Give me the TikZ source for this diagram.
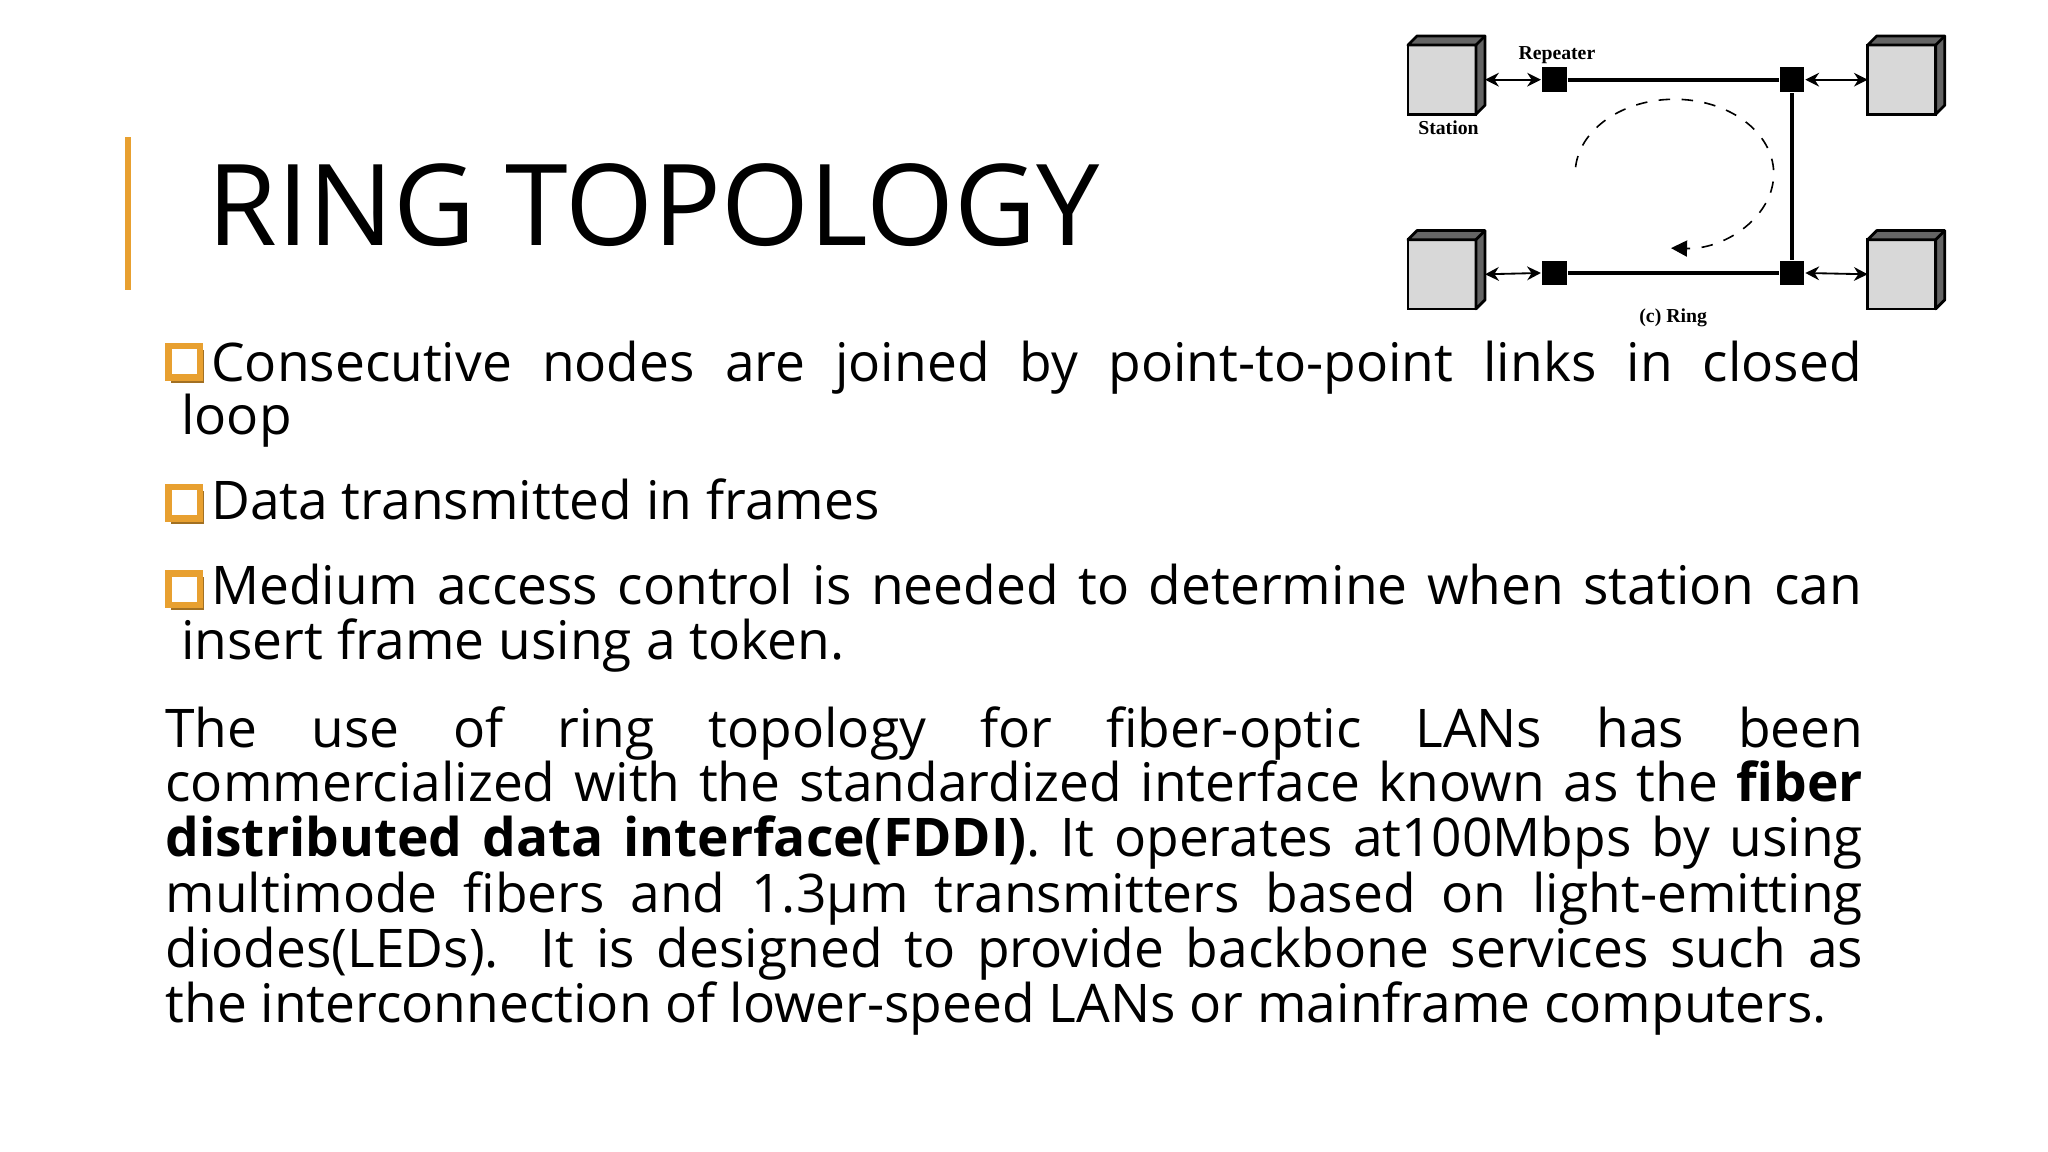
\documentclass[tikz,border=0pt]{standalone}
\usepackage{fontspec}
\setmainfont{Open Sans}
\newfontfamily\diagfont{Liberation Serif}
\usetikzlibrary{arrows.meta}
\definecolor{orng}{RGB}{232,160,48}
\definecolor{stfront}{RGB}{216,216,216}
\definecolor{stdark}{RGB}{100,100,100}
\tikzset{
  station/.style={draw=black,line width=0.6pt,fill=stfront,minimum width=0.52cm,minimum height=0.53cm,inner sep=0pt,outer sep=0pt},
  repeater/.style={fill=black,minimum size=0.19cm,inner sep=0pt},
  ring/.style={line width=0.9pt},
  link/.style={line width=0.4pt,{Stealth[length=3pt,width=3pt]}-{Stealth[length=3pt,width=3pt]}},
  lbl/.style={font=\diagfont\bfseries\fontsize{4.3}{5}\selectfont},
  body/.style={anchor=base west,inner sep=0pt,font=\fontsize{11.6}{13}\selectfont},
}
\newcommand{\jline}[1]{\makebox[12.99cm][s]{#1}}
\begin{document}
\begin{tikzpicture}[x=0.01cm,y=-0.01cm]
\useasboundingbox (0,0) rectangle (1568,882);
\fill[white] (0,0) rectangle (1568,882);
% accent
\draw[orng,line width=1.2pt] (98,105) -- (98,222);
\node[anchor=base west,inner sep=0pt,font=\fontsize{24.6}{28}\selectfont] (title) at (158,188) {RING TOPOLOGY};
% stations
\foreach \n/\x/\y in {s1/1104/61,s2/1456/61,s3/1104/210,s4/1456/210}{
  \node[station] (\n) at (\x,\y) {};
  \draw[line width=0.6pt,fill=stdark,line join=round] (\n.north west) -- ([shift={(7,-7)}]\n.north west) -- ([shift={(7,-7)}]\n.north east) -- ([shift={(7,-7)}]\n.south east) -- (\n.south east) -- (\n.north east) -- cycle;
  \draw[line width=0.6pt] (\n.north east) -- ([shift={(7,-7)}]\n.north east);
}
\foreach \n/\x/\y in {r1/1190/61,r2/1372/61,r3/1190/209,r4/1372/209}{
  \node[repeater] (\n) at (\x,\y) {};
}
\draw[ring] (r1) -- (r2) -- (r4) -- (r3) -- cycle;
\foreach \n/\x/\y in {r1/1190/61,r2/1372/61,r3/1190/209,r4/1372/209}{
  \node[repeater] at (\x,\y) {};
}
\draw[link] ([xshift=0.07cm]s1.east) -- (r1.west);
\draw[link] ([xshift=0.07cm]s3.east) -- (r3.west);
\draw[link] (r2.east) -- (s2.west);
\draw[link] (r4.east) -- (s4.west);
\coordinate (lc) at (1282,133);
\draw[line width=0.35pt,dash pattern=on 2.5pt off 2.5pt,-{Triangle[length=3.5pt,width=3.5pt]}] (lc) ++(185:76 and 57) arc[start angle=185,end angle=452,x radius=76,y radius=57];
\node[lbl] (rep) at (1192,42) {Repeater};
\node[lbl] (sta) at (1109,98) {Station};
\node[lbl] (cap) at (1281,243) {(c) Ring};
% bullets
\foreach \y in {278,386,452}{
  \fill[orng!70!black] (131,\y-10) rectangle (156,\y+15);
  \fill[white] (129,\y-13) rectangle (153,\y+11);
  \draw[orng,line width=1.4pt] (129,\y-13) rectangle (153,\y+11);
}
\node[body] (b1a) at (161,292) {\makebox[12.63cm][s]{Consecutive nodes are joined by point-to-point links in closed}};
\node[body] (b1b) at (138,333) {loop};
\node[body] (b2) at (161,398) {Data transmitted in frames};
\node[body] (b3a) at (161,463) {\makebox[12.63cm][s]{Medium access control is needed to determine when station can}};
\node[body] (b3b) at (138,505) {insert frame using a token.};
\node[body] (p1) at (126,572) {\jline{The use of ring topology for fiber-optic LANs has been}};
\node[body] (p2) at (126,614) {\jline{commercialized with the standardized interface known as the \textbf{fiber}}};
\node[body] (p3) at (126,656) {\jline{\textbf{distributed data interface(FDDI)}. It operates at100Mbps by using}};
\node[body] (p4) at (126,699) {\jline{multimode fibers and 1.3μm transmitters based on light-emitting}};
\node[body] (p5) at (126,741) {\jline{diodes(LEDs). It is designed to provide backbone services such as}};
\node[body] (p6) at (126,783) {the interconnection of lower-speed LANs or mainframe computers.};
\end{tikzpicture}
\end{document}
